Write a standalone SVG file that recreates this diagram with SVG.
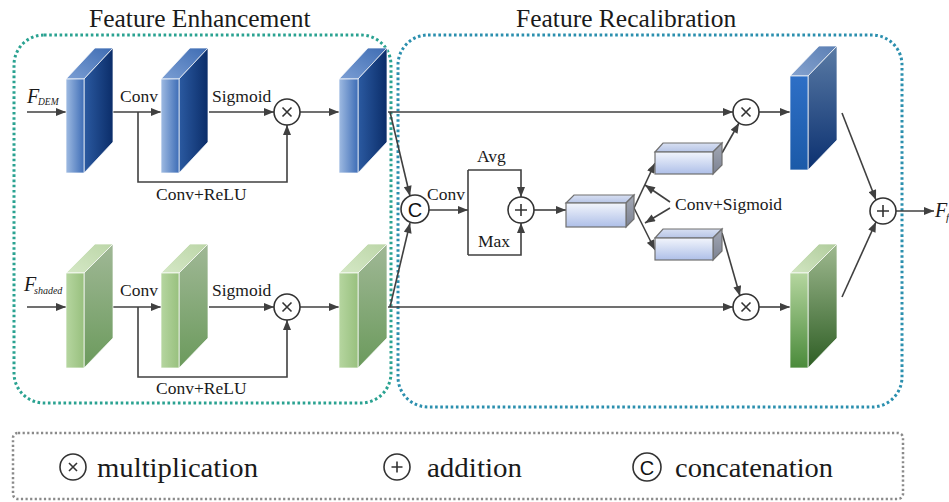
<svg xmlns="http://www.w3.org/2000/svg" width="949" height="502" viewBox="0 0 949 502">
<defs>
<style>
.t{font-family:"Liberation Serif","Times New Roman",serif;fill:#1a1a1a}
.lbl{font-size:17.5px}
.ttl{font-size:25.5px}
.leg{font-size:28px}
.it{font-style:italic}
.ln{fill:none;stroke:#404040;stroke-width:1.6}
.ar{fill:none;stroke:#404040;stroke-width:1.6;marker-end:url(#ah)}
.op{fill:#fff;stroke:#333;stroke-width:1.6}
.sym{stroke:#333;stroke-width:1.6;fill:none}
.edge{stroke:#ffffff;stroke-width:0.9;stroke-opacity:0.8}
.cub{stroke:#707070;stroke-width:1.2}
</style>
<marker id="ah" viewBox="0 0 10 8" refX="10" refY="4" markerWidth="11" markerHeight="8" markerUnits="userSpaceOnUse" orient="auto">
<path d="M0,0 L10,4 L0,8 z" fill="#404040"/>
</marker>
<linearGradient id="bFront" x1="0" y1="0" x2="1" y2="0"><stop offset="0" stop-color="#9fbbe2"/><stop offset="1" stop-color="#3e6db6"/></linearGradient>
<linearGradient id="bTop" x1="0" y1="1" x2="1" y2="0"><stop offset="0" stop-color="#7c9fd4"/><stop offset="1" stop-color="#3e6cb3"/></linearGradient>
<linearGradient id="bSide" x1="0" y1="0" x2="1" y2="0"><stop offset="0" stop-color="#2b5aa1"/><stop offset="1" stop-color="#0b2d69"/></linearGradient>
<linearGradient id="gFront" x1="0" y1="0" x2="1" y2="0"><stop offset="0" stop-color="#b6d6a0"/><stop offset="1" stop-color="#98c07e"/></linearGradient>
<linearGradient id="gTop" x1="0" y1="1" x2="1" y2="0"><stop offset="0" stop-color="#d5e8c6"/><stop offset="1" stop-color="#bcd6a8"/></linearGradient>
<linearGradient id="gSide" x1="0" y1="0" x2="0" y2="1"><stop offset="0" stop-color="#a0b896"/><stop offset="1" stop-color="#6b9a5c"/></linearGradient>
<linearGradient id="obFront" x1="0" y1="0" x2="0" y2="1"><stop offset="0" stop-color="#2e6fc6"/><stop offset="1" stop-color="#1b5aa8"/></linearGradient>
<linearGradient id="obTop" x1="0" y1="1" x2="1" y2="0"><stop offset="0" stop-color="#86a3cf"/><stop offset="1" stop-color="#5b7fb4"/></linearGradient>
<linearGradient id="obSide" x1="0" y1="0" x2="0" y2="1"><stop offset="0" stop-color="#5a7ba5"/><stop offset="1" stop-color="#0b3070"/></linearGradient>
<linearGradient id="ogFront" x1="0" y1="0" x2="0" y2="1"><stop offset="0" stop-color="#b5d69f"/><stop offset="1" stop-color="#4a8a3a"/></linearGradient>
<linearGradient id="ogTop" x1="0" y1="1" x2="1" y2="0"><stop offset="0" stop-color="#d2e6c2"/><stop offset="1" stop-color="#b0cc9c"/></linearGradient>
<linearGradient id="ogSide" x1="0" y1="0" x2="0" y2="1"><stop offset="0" stop-color="#9fb990"/><stop offset="1" stop-color="#2e5e24"/></linearGradient>
<linearGradient id="cFront" x1="0" y1="0" x2="0" y2="1"><stop offset="0" stop-color="#f2f5fc"/><stop offset="1" stop-color="#aebfe8"/></linearGradient>
<linearGradient id="cTop" x1="0" y1="0" x2="0" y2="1"><stop offset="0" stop-color="#d8e0f2"/><stop offset="1" stop-color="#b6c4e6"/></linearGradient>
<linearGradient id="cSide" x1="0" y1="0" x2="0" y2="1"><stop offset="0" stop-color="#a4a9b6"/><stop offset="1" stop-color="#7c8292"/></linearGradient>
</defs>

<rect width="949" height="502" fill="#ffffff"/>

<!-- group frames -->
<g id="frames">
<rect x="14" y="35" width="377" height="368" rx="30" fill="none" stroke="#2aa291" stroke-width="3" stroke-dasharray="2.6 2.6"/>
<rect x="398" y="35" width="504" height="372" rx="30" fill="none" stroke="#2b8fae" stroke-width="3" stroke-dasharray="2.6 2.6"/>
<text class="t ttl" x="89" y="27">Feature Enhancement</text>
<text class="t ttl" x="516" y="27">Feature Recalibration</text>
</g>

<!-- connectors -->
<g id="connectors">
<!-- top row -->
<line class="ar" x1="27" y1="112" x2="66" y2="112"/>
<line class="ar" x1="113" y1="112" x2="161" y2="112"/>
<line class="ar" x1="209" y1="112" x2="274" y2="112"/>
<polyline class="ar" points="138,112 138,182 287,182 287,125"/>
<line class="ar" x1="300" y1="112" x2="339" y2="112"/>
<!-- bottom row -->
<line class="ar" x1="27" y1="307" x2="66" y2="307"/>
<line class="ar" x1="113" y1="307" x2="161" y2="307"/>
<line class="ar" x1="209" y1="307" x2="274" y2="307"/>
<polyline class="ar" points="138,307 138,377 287,377 287,320"/>
<line class="ar" x1="300" y1="307" x2="339" y2="307"/>
<!-- to recalibration -->
<line class="ar" x1="388" y1="112" x2="733" y2="112"/>
<line class="ar" x1="388" y1="307" x2="733" y2="307"/>
<line class="ar" x1="390" y1="112" x2="410" y2="196"/>
<line class="ar" x1="390" y1="307" x2="410" y2="223"/>
<line class="ar" x1="429" y1="210" x2="468" y2="210"/>
<line class="ln" x1="468" y1="170" x2="468" y2="255"/>
<polyline class="ar" points="468,170 521,170 521,197"/>
<polyline class="ar" points="468,255 521,255 521,223"/>
<line class="ar" x1="534" y1="210" x2="566" y2="210"/>
<line class="ar" x1="634" y1="208" x2="655" y2="163"/>
<line class="ar" x1="634" y1="208" x2="655" y2="250"/>
<line class="ar" x1="670" y1="202" x2="645" y2="185"/>
<line class="ar" x1="670" y1="208" x2="645" y2="223"/>
<line class="ar" x1="722" y1="153" x2="739" y2="123"/>
<line class="ar" x1="722" y1="233" x2="740" y2="296"/>
<line class="ar" x1="759" y1="112" x2="790" y2="112"/>
<line class="ar" x1="759" y1="307" x2="790" y2="307"/>
<line class="ar" x1="842" y1="113" x2="876" y2="200"/>
<line class="ar" x1="842" y1="297" x2="876" y2="222"/>
<line class="ar" x1="896" y1="211" x2="934" y2="211"/>
</g>

<!-- labels -->
<g id="labels">
<text class="t it" x="27" y="103" font-size="20">F</text>
<text class="t it" x="38" y="105" font-size="9.5">DEM</text>
<text class="t it" x="24" y="291" font-size="20">F</text>
<text class="t it" x="34" y="294" font-size="10">shaded</text>
<text class="t lbl" x="120" y="102">Conv</text>
<text class="t lbl" x="212" y="102">Sigmoid</text>
<text class="t lbl" x="156" y="200">Conv+ReLU</text>
<text class="t lbl" x="120" y="296">Conv</text>
<text class="t lbl" x="212" y="296">Sigmoid</text>
<text class="t lbl" x="156" y="394">Conv+ReLU</text>
<text class="t lbl" x="427" y="200">Conv</text>
<text class="t lbl" x="477" y="162">Avg</text>
<text class="t lbl" x="478" y="247">Max</text>
<text class="t lbl" x="675" y="210">Conv+Sigmoid</text>
<text class="t it" x="935" y="217" font-size="20">F</text>
<text class="t it" x="946" y="221" font-size="11">f</text>
</g>

<!-- feature blocks -->
<g id="blockDEM1">
<polygon points="66,79 84,79 113,48 95,48" fill="url(#bTop)" class="edge"/>
<polygon points="84,79 113,48 113,142 84,173" fill="url(#bSide)" class="edge"/>
<rect x="66" y="79" width="18" height="94" fill="url(#bFront)" class="edge"/>
</g>
<g id="blockDEM2">
<polygon points="161,79 179,79 208,48 190,48" fill="url(#bTop)" class="edge"/>
<polygon points="179,79 208,48 208,142 179,173" fill="url(#bSide)" class="edge"/>
<rect x="161" y="79" width="18" height="94" fill="url(#bFront)" class="edge"/>
</g>
<g id="blockDEM3">
<polygon points="339,79 358,79 387,48 368,48" fill="url(#bTop)" class="edge"/>
<polygon points="358,79 387,48 387,142 358,173" fill="url(#bSide)" class="edge"/>
<rect x="339" y="79" width="19" height="94" fill="url(#bFront)" class="edge"/>
</g>
<g id="blockSh1">
<polygon points="66,273 84,273 113,244 95,244" fill="url(#gTop)" class="edge"/>
<polygon points="84,273 113,244 113,338 84,368" fill="url(#gSide)" class="edge"/>
<rect x="66" y="273" width="18" height="95" fill="url(#gFront)" class="edge"/>
</g>
<g id="blockSh2">
<polygon points="161,273 179,273 208,244 190,244" fill="url(#gTop)" class="edge"/>
<polygon points="179,273 208,244 208,338 179,368" fill="url(#gSide)" class="edge"/>
<rect x="161" y="273" width="18" height="95" fill="url(#gFront)" class="edge"/>
</g>
<g id="blockSh3">
<polygon points="339,273 358,273 387,244 368,244" fill="url(#gTop)" class="edge"/>
<polygon points="358,273 387,244 387,338 358,368" fill="url(#gSide)" class="edge"/>
<rect x="339" y="273" width="19" height="95" fill="url(#gFront)" class="edge"/>
</g>
<g id="outDEM">
<polygon points="790,76 808,76 837,46 819,46" fill="url(#obTop)" class="edge"/>
<polygon points="808,76 837,46 837,140 808,170" fill="url(#obSide)" class="edge"/>
<rect x="790" y="76" width="18" height="94" fill="url(#obFront)" class="edge"/>
</g>
<g id="outSh">
<polygon points="790,273 808,273 837,244 819,244" fill="url(#ogTop)" class="edge"/>
<polygon points="808,273 837,244 837,338 808,368" fill="url(#ogSide)" class="edge"/>
<rect x="790" y="273" width="18" height="95" fill="url(#ogFront)" class="edge"/>
</g>

<!-- cuboids -->
<g id="cubMid">
<polygon points="566,203 574,195 634,195 626,203" fill="url(#cTop)" class="cub"/>
<polygon points="626,203 634,195 634,219 626,227" fill="url(#cSide)" class="cub"/>
<rect x="566" y="203" width="60" height="24" fill="url(#cFront)" class="cub"/>
</g>
<g id="cubUp">
<polygon points="655,152 663,143 722,143 713,152" fill="url(#cTop)" class="cub"/>
<polygon points="713,152 722,143 722,165 713,174" fill="url(#cSide)" class="cub"/>
<rect x="655" y="152" width="58" height="22" fill="url(#cFront)" class="cub"/>
</g>
<g id="cubLo">
<polygon points="655,238 663,229 722,229 713,238" fill="url(#cTop)" class="cub"/>
<polygon points="713,238 722,229 722,251 713,260" fill="url(#cSide)" class="cub"/>
<rect x="655" y="238" width="58" height="22" fill="url(#cFront)" class="cub"/>
</g>

<!-- operators -->
<g id="mulTop1"><circle class="op" cx="287" cy="112" r="13"/><path class="sym" d="M282.5,107.5 L291.5,116.5 M291.5,107.5 L282.5,116.5"/></g>
<g id="mulBot1"><circle class="op" cx="287" cy="307" r="13"/><path class="sym" d="M282.5,302.5 L291.5,311.5 M291.5,302.5 L282.5,311.5"/></g>
<g id="concat"><circle class="op" cx="415" cy="209" r="14" stroke-width="2"/><text x="415" y="216.5" text-anchor="middle" font-family="Liberation Sans, Arial, sans-serif" font-size="20" fill="#111">C</text></g>
<g id="addPool"><circle class="op" cx="521" cy="210" r="13"/><path class="sym" d="M521,204 V216 M515,210 H527"/></g>
<g id="mulTop2"><circle class="op" cx="746" cy="112" r="13"/><path class="sym" d="M741.5,107.5 L750.5,116.5 M750.5,107.5 L741.5,116.5"/></g>
<g id="mulBot2"><circle class="op" cx="746" cy="307" r="13"/><path class="sym" d="M741.5,302.5 L750.5,311.5 M750.5,302.5 L741.5,311.5"/></g>
<g id="addOut"><circle class="op" cx="883" cy="211" r="13"/><path class="sym" d="M883,205 V217 M877,211 H889"/></g>

<!-- legend -->
<g id="legend">
<rect x="13" y="433" width="890" height="66" rx="5" fill="none" stroke="#8a8a8a" stroke-width="2.5" stroke-dasharray="2.2 2.4"/>
<circle class="op" cx="73" cy="467" r="13"/><path class="sym" d="M69,463 L77,471 M77,463 L69,471"/>
<text class="t leg" x="97" y="477" textLength="161" lengthAdjust="spacingAndGlyphs">multiplication</text>
<circle class="op" cx="397" cy="467" r="13"/><path class="sym" d="M397,461.5 V472.5 M391.5,467 H402.5"/>
<text class="t leg" x="427" y="477" textLength="95" lengthAdjust="spacingAndGlyphs">addition</text>
<circle class="op" cx="647" cy="467" r="14" stroke-width="2"/><text x="647" y="474.5" text-anchor="middle" font-family="Liberation Sans, Arial, sans-serif" font-size="20" fill="#111">C</text>
<text class="t leg" x="675" y="477" textLength="158" lengthAdjust="spacingAndGlyphs">concatenation</text>
</g>
</svg>
